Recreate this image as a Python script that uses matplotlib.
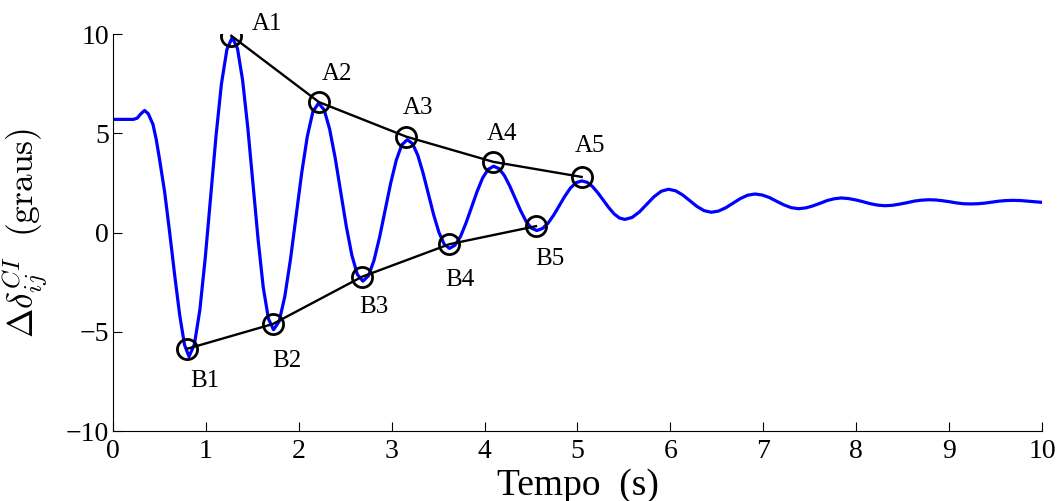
import matplotlib
matplotlib.use('Agg')
import matplotlib.pyplot as plt

plt.rcParams['font.family'] = ['Liberation Serif', 'DejaVu Serif']
plt.rcParams['mathtext.fontset'] = 'cm'

# rotor angle difference after the fault (degrees)
tempo = [0.0, 0.22, 0.26, 0.30, 0.34, 0.38, 0.43, 0.465, 0.50, 0.556, 0.61, 0.664, 0.718, 0.77, 0.818,
         0.876, 0.935, 0.993, 1.051, 1.109, 1.167, 1.226, 1.284,
         1.340, 1.395, 1.451, 1.506, 1.562, 1.617, 1.673, 1.728,
         1.789, 1.849, 1.910, 1.971, 2.031, 2.092, 2.152, 2.213,
         2.273, 2.332, 2.392, 2.452, 2.511, 2.571, 2.630, 2.690,
         2.750, 2.809, 2.869, 2.929, 2.989, 3.049, 3.108, 3.168,
         3.225, 3.282, 3.338, 3.395, 3.452, 3.509, 3.565, 3.622,
         3.681, 3.741, 3.800, 3.860, 3.919, 3.978, 4.038, 4.097,
         4.155, 4.213, 4.271, 4.330, 4.388, 4.446, 4.504, 4.562,
         4.622, 4.683, 4.743, 4.804, 4.864, 4.924, 4.985, 5.045,
         5.103, 5.161, 5.219, 5.278, 5.336, 5.394, 5.452, 5.510,
         5.588, 5.667, 5.745, 5.823, 5.902, 5.980,
         6.057, 6.133, 6.210, 6.287, 6.363, 6.440,
         6.518, 6.597, 6.675, 6.753, 6.832, 6.910,
         6.988, 7.067, 7.145, 7.223, 7.302, 7.380,
         7.457, 7.533, 7.610, 7.687, 7.763, 7.840,
         7.918, 7.997, 8.075, 8.153, 8.232, 8.310,
         8.388, 8.467, 8.545, 8.623, 8.702, 8.780,
         8.855, 8.930, 9.005, 9.080, 9.155, 9.230,
         9.307, 9.383, 9.460, 9.537, 9.613, 9.690,
         9.770, 9.850, 9.920, 10.0]
delta = [5.70, 5.70, 5.76, 5.98, 6.15, 5.98, 5.45, 4.70, 3.72, 2.04, 0.00, -2.15, -4.16, -5.66, -6.25,
         -5.64, -3.90, -1.28, 1.79, 4.86, 7.48, 9.22, 9.83,
         9.27, 7.68, 5.28, 2.46, -0.35, -2.75, -4.34, -4.90,
         -4.47, -3.23, -1.37, 0.81, 2.99, 4.85, 6.09, 6.52,
         6.18, 5.21, 3.75, 2.03, 0.32, -1.14, -2.11, -2.45,
         -2.18, -1.41, -0.25, 1.12, 2.48, 3.64, 4.41, 4.68,
         4.47, 3.88, 2.99, 1.94, 0.89, 0.00, -0.59, -0.80,
         -0.64, -0.20, 0.48, 1.27, 2.06, 2.74, 3.18, 3.34,
         3.22, 2.87, 2.34, 1.72, 1.10, 0.57, 0.22, 0.10,
         0.20, 0.47, 0.87, 1.35, 1.83, 2.24, 2.51, 2.60,
         2.53, 2.32, 2.00, 1.63, 1.26, 0.94, 0.73, 0.66,
         0.76, 1.04, 1.42, 1.80, 2.08, 2.18,
         2.10, 1.89, 1.60, 1.31, 1.10, 1.02,
         1.08, 1.25, 1.48, 1.71, 1.88, 1.94,
         1.89, 1.76, 1.57, 1.39, 1.25, 1.20,
         1.24, 1.34, 1.47, 1.61, 1.70, 1.74,
         1.71, 1.64, 1.55, 1.45, 1.38, 1.35,
         1.37, 1.43, 1.50, 1.58, 1.63, 1.65,
         1.64, 1.60, 1.55, 1.49, 1.45, 1.44,
         1.45, 1.48, 1.53, 1.58, 1.61, 1.62,
         1.61, 1.58, 1.55, 1.52]

# upper envelope points (peaks) and lower envelope points (valleys)
picos_t = [1.274, 2.217, 3.156, 4.094, 5.045]
picos_v = [9.91, 6.57, 4.83, 3.56, 2.80]
picos_nomes = ['A1', 'A2', 'A3', 'A4', 'A5']
vales_t = [0.797, 1.720, 2.680, 3.620, 4.553]
vales_v = [-5.86, -4.61, -2.23, -0.59, 0.32]
vales_nomes = ['B1', 'B2', 'B3', 'B4', 'B5']

# label offsets in pixels
off_picos = [(36, 12), (18, 28), (12, 29), (9, 28), (8, 31)]
off_vales = [(18, -32), (14, -37), (12, -30), (11, -36), (14, -33)]

fig = plt.figure(figsize=(10.6, 5.01), dpi=100)
ax = fig.add_axes([0.1066, 0.1397, 0.8764, 0.7924])

ax.plot(tempo, delta, color=(0, 0, 1), lw=2.3, zorder=2)
ax.plot(picos_t, picos_v, color='k', lw=1.7, zorder=3)
ax.plot(vales_t, vales_v, color='k', lw=1.7, zorder=3)
ax.plot(picos_t, picos_v, 'o', ms=14.5, mfc='none', mec='k', mew=2.0, zorder=4)
ax.plot(vales_t, vales_v, 'o', ms=14.5, mfc='none', mec='k', mew=2.0, zorder=4)

for t, v, nome, off in zip(picos_t, picos_v, picos_nomes, off_picos):
    ax.annotate(nome, (t, v), xytext=off, textcoords='offset pixels',
                ha='center', va='center', fontsize=18)
for t, v, nome, off in zip(vales_t, vales_v, vales_nomes, off_vales):
    ax.annotate(nome, (t, v), xytext=off, textcoords='offset pixels',
                ha='center', va='center', fontsize=18)

ax.set_xlim(0, 10)
ax.set_ylim(-10, 10)
ax.set_xticks(range(0, 11))
ax.set_yticks([-10, -5, 0, 5, 10])
ax.spines['top'].set_visible(False)
ax.spines['right'].set_visible(False)
ax.tick_params(direction='in', length=6.5, width=0.8, labelsize=20)
ax.tick_params(axis='x', pad=6)
ax.tick_params(axis='y', pad=3)

ax.set_xlabel('Tempo  (s)', fontsize=27, labelpad=3)
ax.set_ylabel(r'$\Delta\delta_{ij}^{CI}\ \ (\mathrm{graus})$', fontsize=25.5, labelpad=11)

fig.savefig('out.png', dpi=100)
